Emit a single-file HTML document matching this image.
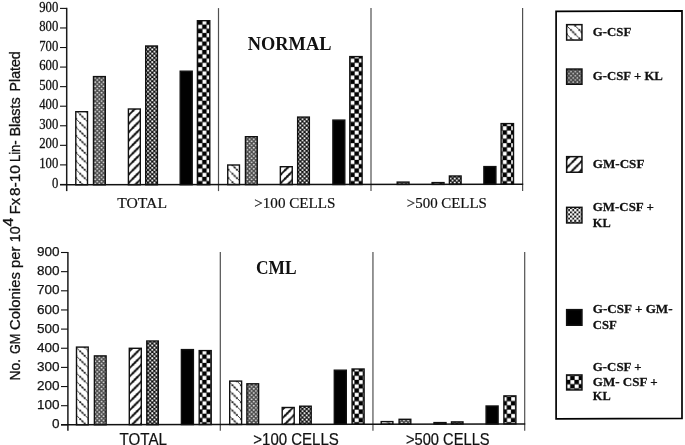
<!DOCTYPE html>
<html><head><meta charset="utf-8"><title>GM Colonies chart</title>
<style>html,body{margin:0;padding:0;background:#fff;}body{width:685px;height:445px;overflow:hidden;}svg{display:block;}text{fill:#111;}.ser{font-family:"Liberation Serif",serif;}.san{font-family:"Liberation Sans",sans-serif;}</style></head><body>
<svg width="685" height="445" viewBox="0 0 685 445">
<defs>
<pattern id="p1" width="8.46" height="8.46" patternUnits="userSpaceOnUse" patternTransform="translate(2.06,2.52)"><rect width="8.46" height="8.46" fill="#fff"/><g fill="#111"><rect x="-1.000" y="-1.000" width="2.0" height="2.0" rx="0.7"/><rect x="1.115" y="1.115" width="2.0" height="2.0" rx="0.7"/><rect x="3.230" y="3.230" width="2.0" height="2.0" rx="0.7"/><rect x="5.345" y="5.345" width="2.0" height="2.0" rx="0.7"/><rect x="7.460" y="7.460" width="2.0" height="2.0" rx="0.7"/></g><path d="M0,0 L8.46,8.46" stroke="#222" stroke-width="0.55" fill="none"/></pattern>
<pattern id="p3" width="8.46" height="8.46" patternUnits="userSpaceOnUse" patternTransform="translate(3.90,3.00)"><rect width="8.46" height="8.46" fill="#fff"/><path d="M-8.46,16.92 L16.92,-8.46 M-8.46,8.46 L8.46,-8.46 M0,16.92 L16.92,0" stroke="#111" stroke-width="1.8" fill="none"/><g fill="#111"><circle cx="0.000" cy="8.460" r="1.2"/><circle cx="2.115" cy="6.345" r="1.2"/><circle cx="4.230" cy="4.230" r="1.2"/><circle cx="6.345" cy="2.115" r="1.2"/><circle cx="8.460" cy="0.000" r="1.2"/></g></pattern>
<pattern id="p2" width="4.23" height="4.23" patternUnits="userSpaceOnUse" patternTransform="translate(1.04,4.92)"><rect width="4.23" height="4.23" fill="#4c4c4c"/><circle cx="1.0575" cy="1.0575" r="0.95" fill="#e4e4e4"/><circle cx="3.1725000000000003" cy="3.1725000000000003" r="0.95" fill="#e4e4e4"/></pattern>
<pattern id="p2L" width="4.23" height="4.23" patternUnits="userSpaceOnUse" patternTransform="translate(1.04,4.92)"><rect width="4.23" height="4.23" fill="#4a4a4a"/><circle cx="1.0575" cy="1.0575" r="0.85" fill="#d0d0d0"/><circle cx="3.1725000000000003" cy="3.1725000000000003" r="0.85" fill="#d0d0d0"/></pattern>
<pattern id="p4" width="4.23" height="4.23" patternUnits="userSpaceOnUse" patternTransform="translate(3.18,1.86)"><rect width="4.23" height="4.23" fill="#111"/><rect x="0.17" y="0.17" width="1.775" height="1.775" fill="#fff"/><rect x="2.285" y="2.285" width="1.775" height="1.775" fill="#fff"/></pattern>
<pattern id="p4L" width="4.23" height="4.23" patternUnits="userSpaceOnUse" patternTransform="translate(3.18,1.86)"><rect width="4.23" height="4.23" fill="#1a1a1a"/><rect x="-0.1" y="-0.1" width="2.315" height="2.315" fill="#fff"/><rect x="2.015" y="2.015" width="2.315" height="2.315" fill="#fff"/></pattern>
<pattern id="p6" width="8.46" height="8.46" patternUnits="userSpaceOnUse" patternTransform="translate(3.49,7.72)"><rect width="8.46" height="8.46" fill="#000"/><rect x="0.15" y="0.15" width="3.9300000000000006" height="3.9300000000000006" fill="#fff"/><rect x="4.380000000000001" y="4.380000000000001" width="3.9300000000000006" height="3.9300000000000006" fill="#fff"/></pattern>
</defs>
<g style="opacity:0.999">
<line x1="66.7" y1="7.800000000000001" x2="66.7" y2="191.1" stroke="#1a1a1a" stroke-width="1.5"/>
<line x1="60.0" y1="184.45" x2="66.7" y2="184.45" stroke="#111" stroke-width="1.1"/>
<text class="ser" transform="translate(58.3,187.55) scale(1.0,1.07)" font-size="12.7" text-anchor="end" stroke="#111" stroke-width="0.25">0</text>
<line x1="60.0" y1="164.89" x2="66.7" y2="164.89" stroke="#111" stroke-width="1.1"/>
<text class="ser" transform="translate(58.3,167.99) scale(1.0,1.07)" font-size="12.7" text-anchor="end" stroke="#111" stroke-width="0.25">100</text>
<line x1="60.0" y1="145.33" x2="66.7" y2="145.33" stroke="#111" stroke-width="1.1"/>
<text class="ser" transform="translate(58.3,148.43) scale(1.0,1.07)" font-size="12.7" text-anchor="end" stroke="#111" stroke-width="0.25">200</text>
<line x1="60.0" y1="125.77" x2="66.7" y2="125.77" stroke="#111" stroke-width="1.1"/>
<text class="ser" transform="translate(58.3,128.87) scale(1.0,1.07)" font-size="12.7" text-anchor="end" stroke="#111" stroke-width="0.25">300</text>
<line x1="60.0" y1="106.21" x2="66.7" y2="106.21" stroke="#111" stroke-width="1.1"/>
<text class="ser" transform="translate(58.3,109.31) scale(1.0,1.07)" font-size="12.7" text-anchor="end" stroke="#111" stroke-width="0.25">400</text>
<line x1="60.0" y1="86.64" x2="66.7" y2="86.64" stroke="#111" stroke-width="1.1"/>
<text class="ser" transform="translate(58.3,89.74) scale(1.0,1.07)" font-size="12.7" text-anchor="end" stroke="#111" stroke-width="0.25">500</text>
<line x1="60.0" y1="67.08" x2="66.7" y2="67.08" stroke="#111" stroke-width="1.1"/>
<text class="ser" transform="translate(58.3,70.18) scale(1.0,1.07)" font-size="12.7" text-anchor="end" stroke="#111" stroke-width="0.25">600</text>
<line x1="60.0" y1="47.52" x2="66.7" y2="47.52" stroke="#111" stroke-width="1.1"/>
<text class="ser" transform="translate(58.3,50.62) scale(1.0,1.07)" font-size="12.7" text-anchor="end" stroke="#111" stroke-width="0.25">700</text>
<line x1="60.0" y1="27.96" x2="66.7" y2="27.96" stroke="#111" stroke-width="1.1"/>
<text class="ser" transform="translate(58.3,31.06) scale(1.0,1.07)" font-size="12.7" text-anchor="end" stroke="#111" stroke-width="0.25">800</text>
<line x1="60.0" y1="8.40" x2="66.7" y2="8.40" stroke="#111" stroke-width="1.1"/>
<text class="ser" transform="translate(58.3,11.5) scale(1.0,1.07)" font-size="12.7" text-anchor="end" stroke="#111" stroke-width="0.25">900</text>
<line x1="218.5" y1="8.1" x2="218.5" y2="191.1" stroke="#505050" stroke-width="1.2"/>
<line x1="371.0" y1="8.1" x2="371.0" y2="191.1" stroke="#505050" stroke-width="1.2"/>
<line x1="522.6" y1="8.1" x2="522.6" y2="191.1" stroke="#505050" stroke-width="1.2"/>
<rect x="75.80" y="111.70" width="11.70" height="73.08" fill="url(#p1)" stroke="#111" stroke-width="1.4"/>
<rect x="93.50" y="76.60" width="11.80" height="108.16" fill="url(#p2)" stroke="#111" stroke-width="1.4"/>
<rect x="128.40" y="109.00" width="11.90" height="75.73" fill="url(#p3)" stroke="#111" stroke-width="1.4"/>
<rect x="145.70" y="46.00" width="11.70" height="138.71" fill="url(#p4)" stroke="#111" stroke-width="1.4"/>
<rect x="180.20" y="71.20" width="12.00" height="113.47" fill="#000" stroke="#111" stroke-width="1.4"/>
<rect x="197.40" y="20.70" width="12.40" height="163.95" fill="url(#p6)" stroke="#111" stroke-width="1.4"/>
<rect x="227.75" y="165.00" width="11.70" height="19.62" fill="url(#p1)" stroke="#111" stroke-width="1.4"/>
<rect x="245.45" y="136.70" width="11.80" height="47.90" fill="url(#p2)" stroke="#111" stroke-width="1.4"/>
<rect x="280.35" y="166.70" width="11.90" height="17.86" fill="url(#p3)" stroke="#111" stroke-width="1.4"/>
<rect x="297.65" y="117.10" width="11.70" height="67.44" fill="url(#p4)" stroke="#111" stroke-width="1.4"/>
<rect x="332.90" y="120.10" width="11.90" height="64.40" fill="#000" stroke="#111" stroke-width="1.4"/>
<rect x="349.80" y="56.60" width="12.30" height="127.88" fill="url(#p6)" stroke="#111" stroke-width="1.4"/>
<rect x="397.20" y="182.10" width="11.80" height="2.33" fill="url(#p2)" stroke="#111" stroke-width="1.4"/>
<rect x="432.10" y="182.60" width="11.90" height="1.79" fill="url(#p3)" stroke="#111" stroke-width="1.4"/>
<rect x="449.40" y="176.00" width="11.70" height="8.37" fill="url(#p4)" stroke="#111" stroke-width="1.4"/>
<rect x="483.90" y="166.60" width="12.00" height="17.74" fill="#000" stroke="#111" stroke-width="1.4"/>
<rect x="501.10" y="123.60" width="12.40" height="60.72" fill="url(#p6)" stroke="#111" stroke-width="1.4"/>
<line x1="60.0" y1="184.81" x2="523.2" y2="184.30" stroke="#111" stroke-width="1.45"/>
<text class="ser" transform="translate(117.2,208.3) scale(1.0,1.03)" font-size="14.8" text-anchor="start" textLength="49.8" lengthAdjust="spacingAndGlyphs" stroke="#111" stroke-width="0.2">TOTAL</text>
<text class="ser" transform="translate(254.3,208.3) scale(1.0,1.03)" font-size="14.8" text-anchor="start" textLength="81.1" lengthAdjust="spacingAndGlyphs" stroke="#111" stroke-width="0.2">&gt;100 CELLS</text>
<text class="ser" transform="translate(406.8,208.3) scale(1.0,1.03)" font-size="14.8" text-anchor="start" textLength="80.1" lengthAdjust="spacingAndGlyphs" stroke="#111" stroke-width="0.2">&gt;500 CELLS</text>
<text class="ser" transform="translate(247.8,50.3) scale(1.0,1.0)" font-size="18.2" text-anchor="start" font-weight="bold" textLength="83.6" lengthAdjust="spacingAndGlyphs">NORMAL</text>
<line x1="67.9" y1="251.9" x2="67.9" y2="430.8" stroke="#1a1a1a" stroke-width="1.5"/>
<line x1="61.0" y1="424.85" x2="67.9" y2="424.85" stroke="#111" stroke-width="1.1"/>
<text class="san" transform="translate(59.6,428.45) scale(1.0,1.0)" font-size="13.5" text-anchor="end" stroke="#111" stroke-width="0.25">0</text>
<line x1="61.0" y1="405.70" x2="67.9" y2="405.70" stroke="#111" stroke-width="1.1"/>
<text class="san" transform="translate(59.6,409.3) scale(1.0,1.0)" font-size="13.5" text-anchor="end" stroke="#111" stroke-width="0.25">100</text>
<line x1="61.0" y1="386.55" x2="67.9" y2="386.55" stroke="#111" stroke-width="1.1"/>
<text class="san" transform="translate(59.6,390.15) scale(1.0,1.0)" font-size="13.5" text-anchor="end" stroke="#111" stroke-width="0.25">200</text>
<line x1="61.0" y1="367.40" x2="67.9" y2="367.40" stroke="#111" stroke-width="1.1"/>
<text class="san" transform="translate(59.6,371.0) scale(1.0,1.0)" font-size="13.5" text-anchor="end" stroke="#111" stroke-width="0.25">300</text>
<line x1="61.0" y1="348.25" x2="67.9" y2="348.25" stroke="#111" stroke-width="1.1"/>
<text class="san" transform="translate(59.6,351.85) scale(1.0,1.0)" font-size="13.5" text-anchor="end" stroke="#111" stroke-width="0.25">400</text>
<line x1="61.0" y1="329.10" x2="67.9" y2="329.10" stroke="#111" stroke-width="1.1"/>
<text class="san" transform="translate(59.6,332.7) scale(1.0,1.0)" font-size="13.5" text-anchor="end" stroke="#111" stroke-width="0.25">500</text>
<line x1="61.0" y1="309.95" x2="67.9" y2="309.95" stroke="#111" stroke-width="1.1"/>
<text class="san" transform="translate(59.6,313.55) scale(1.0,1.0)" font-size="13.5" text-anchor="end" stroke="#111" stroke-width="0.25">600</text>
<line x1="61.0" y1="290.80" x2="67.9" y2="290.80" stroke="#111" stroke-width="1.1"/>
<text class="san" transform="translate(59.6,294.4) scale(1.0,1.0)" font-size="13.5" text-anchor="end" stroke="#111" stroke-width="0.25">700</text>
<line x1="61.0" y1="271.65" x2="67.9" y2="271.65" stroke="#111" stroke-width="1.1"/>
<text class="san" transform="translate(59.6,275.25) scale(1.0,1.0)" font-size="13.5" text-anchor="end" stroke="#111" stroke-width="0.25">800</text>
<line x1="61.0" y1="252.50" x2="67.9" y2="252.50" stroke="#111" stroke-width="1.1"/>
<text class="san" transform="translate(59.6,256.1) scale(1.0,1.0)" font-size="13.5" text-anchor="end" stroke="#111" stroke-width="0.25">900</text>
<line x1="220.3" y1="251.9" x2="220.3" y2="430.8" stroke="#505050" stroke-width="1.2"/>
<line x1="372.95" y1="251.9" x2="372.95" y2="430.8" stroke="#505050" stroke-width="1.2"/>
<line x1="524.7" y1="251.9" x2="524.7" y2="430.8" stroke="#505050" stroke-width="1.2"/>
<rect x="76.50" y="347.10" width="11.70" height="77.67" fill="url(#p1)" stroke="#111" stroke-width="1.4"/>
<rect x="94.40" y="355.90" width="11.70" height="68.84" fill="url(#p2)" stroke="#111" stroke-width="1.4"/>
<rect x="129.30" y="348.30" width="12.00" height="76.37" fill="url(#p3)" stroke="#111" stroke-width="1.4"/>
<rect x="146.80" y="341.00" width="11.50" height="83.63" fill="url(#p4)" stroke="#111" stroke-width="1.4"/>
<rect x="181.40" y="349.60" width="12.00" height="74.96" fill="#000" stroke="#111" stroke-width="1.4"/>
<rect x="199.20" y="350.60" width="12.00" height="73.93" fill="url(#p6)" stroke="#111" stroke-width="1.4"/>
<rect x="229.70" y="381.10" width="11.90" height="43.37" fill="url(#p1)" stroke="#111" stroke-width="1.4"/>
<rect x="246.90" y="383.80" width="11.70" height="40.64" fill="url(#p2)" stroke="#111" stroke-width="1.4"/>
<rect x="282.20" y="407.50" width="12.00" height="16.87" fill="url(#p3)" stroke="#111" stroke-width="1.4"/>
<rect x="299.70" y="406.20" width="11.50" height="18.13" fill="url(#p4)" stroke="#111" stroke-width="1.4"/>
<rect x="334.30" y="370.20" width="12.00" height="54.06" fill="#000" stroke="#111" stroke-width="1.4"/>
<rect x="352.10" y="369.00" width="12.00" height="55.23" fill="url(#p6)" stroke="#111" stroke-width="1.4"/>
<rect x="381.20" y="421.60" width="11.70" height="2.57" fill="url(#p1)" stroke="#111" stroke-width="1.4"/>
<rect x="399.10" y="419.30" width="11.70" height="4.84" fill="url(#p2)" stroke="#111" stroke-width="1.4"/>
<rect x="434.00" y="422.60" width="12.00" height="1.47" fill="url(#p3)" stroke="#111" stroke-width="1.4"/>
<rect x="451.50" y="421.90" width="11.50" height="2.13" fill="url(#p4)" stroke="#111" stroke-width="1.4"/>
<rect x="486.10" y="406.00" width="12.00" height="17.96" fill="#000" stroke="#111" stroke-width="1.4"/>
<rect x="503.90" y="395.90" width="12.00" height="28.03" fill="url(#p6)" stroke="#111" stroke-width="1.4"/>
<line x1="61.0" y1="424.81" x2="525.2" y2="423.90" stroke="#111" stroke-width="1.45"/>
<text class="san" transform="translate(119.6,445.3) scale(1.0,1.09)" font-size="14.8" text-anchor="start" textLength="47.3" lengthAdjust="spacingAndGlyphs" stroke="#111" stroke-width="0.2">TOTAL</text>
<text class="san" transform="translate(253.3,445.3) scale(1.0,1.09)" font-size="14.8" text-anchor="start" textLength="85.5" lengthAdjust="spacingAndGlyphs" stroke="#111" stroke-width="0.2">&gt;100 CELLS</text>
<text class="san" transform="translate(405.9,445.3) scale(1.0,1.09)" font-size="14.8" text-anchor="start" textLength="83.7" lengthAdjust="spacingAndGlyphs" stroke="#111" stroke-width="0.2">&gt;500 CELLS</text>
<text class="ser" transform="translate(255.9,274.3) scale(1.0,1.12)" font-size="17.6" text-anchor="start" font-weight="bold" textLength="40.6" lengthAdjust="spacingAndGlyphs">CML</text>
<text class="san" transform="translate(20.2,380.40) rotate(-90)" font-size="14.4" stroke="#111" stroke-width="0.3" textLength="21.60" lengthAdjust="spacingAndGlyphs">No.</text>
<text class="san" transform="translate(20.2,354.10) rotate(-90)" font-size="14.4" stroke="#111" stroke-width="0.3" textLength="20.40" lengthAdjust="spacingAndGlyphs">GM</text>
<text class="san" transform="translate(20.2,329.90) rotate(-90)" font-size="14.4" stroke="#111" stroke-width="0.3" textLength="57.70" lengthAdjust="spacingAndGlyphs">Colonies</text>
<text class="san" transform="translate(20.2,268.00) rotate(-90)" font-size="14.4" stroke="#111" stroke-width="0.3" textLength="21.40" lengthAdjust="spacingAndGlyphs">per</text>
<text class="san" transform="translate(20.2,242.30) rotate(-90)" font-size="14.4" stroke="#111" stroke-width="0.3" textLength="16.00" lengthAdjust="spacingAndGlyphs">10</text>
<text class="san" transform="translate(13.2,226.50) rotate(-90)" font-size="14.4" stroke="#111" stroke-width="0.3" textLength="8.70" lengthAdjust="spacingAndGlyphs">4</text>
<text class="san" transform="translate(20.2,214.30) rotate(-90)" font-size="14.4" stroke="#111" stroke-width="0.3" textLength="16.40" lengthAdjust="spacingAndGlyphs">Fx</text>
<text class="san" transform="translate(20.2,196.10) rotate(-90)" font-size="14.4" stroke="#111" stroke-width="0.3" textLength="31.00" lengthAdjust="spacingAndGlyphs">8-10</text>
<text class="san" transform="translate(20.2,162.10) rotate(-90)" font-size="14.4" stroke="#111" stroke-width="0.3" textLength="21.80" lengthAdjust="spacingAndGlyphs">Lin-</text>
<text class="san" transform="translate(20.2,136.60) rotate(-90)" font-size="14.4" stroke="#111" stroke-width="0.3" textLength="39.40" lengthAdjust="spacingAndGlyphs">Blasts</text>
<text class="san" transform="translate(20.2,91.40) rotate(-90)" font-size="14.4" stroke="#111" stroke-width="0.3" textLength="40.10" lengthAdjust="spacingAndGlyphs">Plated</text>
<path d="M556.1,11.3 L682.0,10.8 L682.0,418.3 L556.1,418.9 Z" fill="none" stroke="#000" stroke-width="1.7"/>
<rect x="566.65" y="24.65" width="15.3" height="15.40" fill="url(#p1)" stroke="#111" stroke-width="1.5"/>
<rect x="566.65" y="69.05" width="15.3" height="15.20" fill="url(#p2L)" stroke="#111" stroke-width="1.5"/>
<rect x="566.65" y="156.65" width="15.3" height="15.60" fill="url(#p3)" stroke="#111" stroke-width="1.5"/>
<rect x="566.65" y="207.35" width="15.3" height="15.60" fill="url(#p4L)" stroke="#111" stroke-width="1.5"/>
<rect x="566.65" y="309.65" width="15.3" height="15.60" fill="#000" stroke="#111" stroke-width="1.5"/>
<rect x="566.65" y="374.95" width="15.3" height="15.00" fill="url(#p6)" stroke="#111" stroke-width="1.5"/>
<text class="ser" transform="translate(592.8,36.1) scale(1.0,1.03)" font-size="12.8" text-anchor="start" font-weight="bold" textLength="38.5" lengthAdjust="spacingAndGlyphs" stroke="#111" stroke-width="0.25">G-CSF</text>
<text class="ser" transform="translate(592.8,79.8) scale(1.0,1.03)" font-size="12.8" text-anchor="start" font-weight="bold" textLength="70.1" lengthAdjust="spacingAndGlyphs" stroke="#111" stroke-width="0.25">G-CSF + KL</text>
<text class="ser" transform="translate(592.8,168.2) scale(1.0,1.03)" font-size="12.8" text-anchor="start" font-weight="bold" textLength="51.6" lengthAdjust="spacingAndGlyphs" stroke="#111" stroke-width="0.25">GM-CSF</text>
<text class="ser" transform="translate(592.8,211.3) scale(1.0,1.03)" font-size="12.8" text-anchor="start" font-weight="bold" textLength="61.0" lengthAdjust="spacingAndGlyphs" stroke="#111" stroke-width="0.25">GM-CSF +</text>
<text class="ser" transform="translate(592.8,226.7) scale(1.0,1.03)" font-size="12.8" text-anchor="start" font-weight="bold" textLength="17.8" lengthAdjust="spacingAndGlyphs" stroke="#111" stroke-width="0.25">KL</text>
<text class="ser" transform="translate(592.8,313.3) scale(1.0,1.03)" font-size="12.8" text-anchor="start" font-weight="bold" textLength="79.8" lengthAdjust="spacingAndGlyphs" stroke="#111" stroke-width="0.25">G-CSF + GM-</text>
<text class="ser" transform="translate(592.8,328.7) scale(1.0,1.03)" font-size="12.8" text-anchor="start" font-weight="bold" textLength="24.0" lengthAdjust="spacingAndGlyphs" stroke="#111" stroke-width="0.25">CSF</text>
<text class="ser" transform="translate(592.8,371.3) scale(1.0,1.03)" font-size="12.8" text-anchor="start" font-weight="bold" textLength="48.7" lengthAdjust="spacingAndGlyphs" stroke="#111" stroke-width="0.25">G-CSF +</text>
<text class="ser" transform="translate(592.8,385.6) scale(1.0,1.03)" font-size="12.8" text-anchor="start" font-weight="bold" textLength="64.8" lengthAdjust="spacingAndGlyphs" stroke="#111" stroke-width="0.25">GM- CSF +</text>
<text class="ser" transform="translate(592.8,400.2) scale(1.0,1.03)" font-size="12.8" text-anchor="start" font-weight="bold" textLength="17.8" lengthAdjust="spacingAndGlyphs" stroke="#111" stroke-width="0.25">KL</text>
</g>
</svg></body></html>
